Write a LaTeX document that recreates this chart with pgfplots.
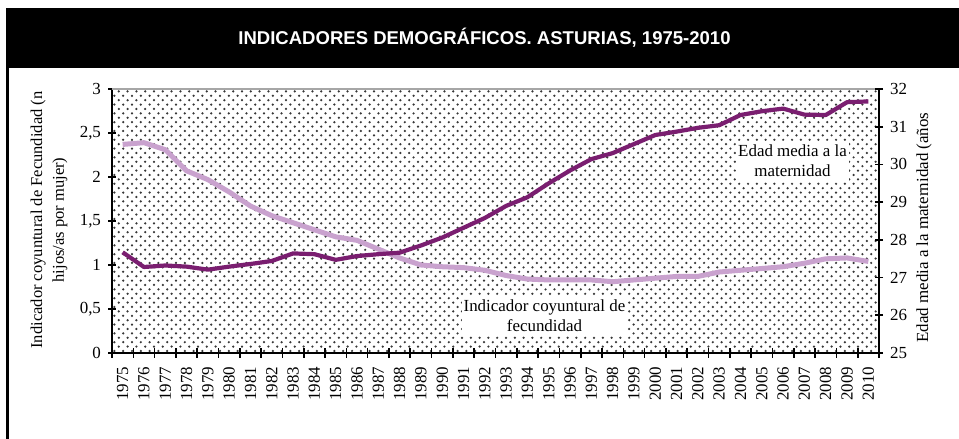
\documentclass[border=0pt]{standalone}
\usepackage{fontspec}
\setmainfont{Liberation Serif}
\newfontfamily\titlefont{Liberation Sans}
\usepackage{pgfplots}
\usepackage{pgfplotstable}
\pgfplotsset{compat=1.18}
\usetikzlibrary{patterns}
\definecolor{darkpurp}{RGB}{122,30,112}
\definecolor{lightpurp}{RGB}{201,162,206}
\definecolor{dotcol}{RGB}{55,55,55}
\pgfdeclarepatternformonly{xdots}{\pgfqpoint{-0.7bp}{-0.7bp}}{\pgfqpoint{3.7bp}{3.7bp}}{\pgfqpoint{4.4bp}{4.4bp}}{%
  \pgfpathcircle{\pgfqpoint{0bp}{0bp}}{0.62bp}%
  \pgfpathcircle{\pgfqpoint{2.2bp}{2.2bp}}{0.62bp}%
  \pgfusepath{fill}}
\pgfplotstableread{
year icf edad
1975 2.37 27.67
1976 2.39 27.28
1977 2.31 27.32
1978 2.07 27.29
1979 1.97 27.21
1980 1.83 27.29
1981 1.67 27.36
1982 1.56 27.44
1983 1.48 27.64
1984 1.40 27.62
1985 1.32 27.47
1986 1.28 27.57
1987 1.18 27.62
1988 1.08 27.66
1989 1.00 27.85
1990 0.98 28.06
1991 0.97 28.32
1992 0.94 28.58
1993 0.88 28.90
1994 0.84 29.13
1995 0.83 29.50
1996 0.83 29.84
1997 0.83 30.14
1998 0.81 30.30
1999 0.83 30.54
2000 0.85 30.78
2001 0.87 30.87
2002 0.87 30.97
2003 0.92 31.04
2004 0.94 31.31
2005 0.96 31.41
2006 0.98 31.48
2007 1.02 31.32
2008 1.07 31.31
2009 1.08 31.65
2010 1.04 31.67
}\data
\newcommand{\fs}{\fontsize{8.5}{10}\selectfont}
\begin{document}
\begin{tikzpicture}
\begin{scope}[x=0.5bp,y=0.5bp]
\path[use as bounding box] (0,0) rectangle (959,439);
\fill[black] (6,371) rectangle (959,431);
\fill[black] (6,0) rectangle (9.3,431);
\node[font=\titlefont\bfseries\fontsize{9.3}{11}\selectfont, text=white] at (484.5,401) {INDICADORES DEMOGRÁFICOS. ASTURIAS, 1975-2010};
\end{scope}
\pgfplotsset{
  common/.style={
    at={(56bp,43bp)}, anchor=south west, scale only axis,
    width=383.5bp, height=132bp,
    xmin=1974.5, xmax=2010.5,
    tick align=center,
    major tick length=4bp,
    minor tick length=5bp,
    tick label style={font=\fs},
    /pgf/number format/use comma,
    /pgf/number format/1000 sep={},
    /pgf/number format/assume math mode=true,
  }
}
\begin{axis}[common,
  ymin=0, ymax=3,
  axis x line*=bottom, axis y line*=left,
  axis line style={black, line width=0.9bp},
  axis background/.style={fill=white, postaction={pattern=xdots, pattern color=dotcol}},
  xtick={1975,...,2010},
  minor xtick={1974.5,1975.5,...,2010.5},
  major x tick style={draw=none},
  minor x tick style={black, line width=0.8bp},
  ytick={0,0.5,...,3},
  y tick style={black, line width=0.8bp},
  xticklabel style={rotate=90, anchor=east},
  xticklabel shift=1.5bp,
]
\draw[gray!70, line width=0.8bp] (rel axis cs:0,1) -- (rel axis cs:1,1);
\addplot[lightpurp, line width=2.5bp, line join=round] table[x=year, y=icf] {\data};
\end{axis}
\begin{axis}[common,
  ymin=25, ymax=32,
  axis x line=none, axis y line*=right,
  axis line style={black, line width=0.9bp},
  ytick={25,...,32},
  y tick style={black, line width=0.8bp},
]
\addplot[darkpurp, line width=2.1bp, line join=round] table[x=year, y=edad] {\data};
\end{axis}
\begin{scope}[x=0.5bp,y=0.5bp]
\node[fill=white, align=center, font=\fs, inner xsep=1bp, inner ysep=2bp] at (792.5,278) {Edad media a la\\maternidad};
\node[fill=white, align=center, font=\fs, inner xsep=1bp, inner ysep=2bp] at (544.5,123.5) {Indicador coyuntural de\\fecundidad};
\node[rotate=90, align=center, font=\fontsize{8.3}{11}\selectfont] at (49,219) {Indicador coyuntural de Fecundidad (n\\hijos/as por mujer)};
\node[rotate=90, anchor=west, font=\fs, inner sep=0pt] at (924,96) {Edad media a la maternidad (años};
\end{scope}
\end{tikzpicture}
\end{document}
